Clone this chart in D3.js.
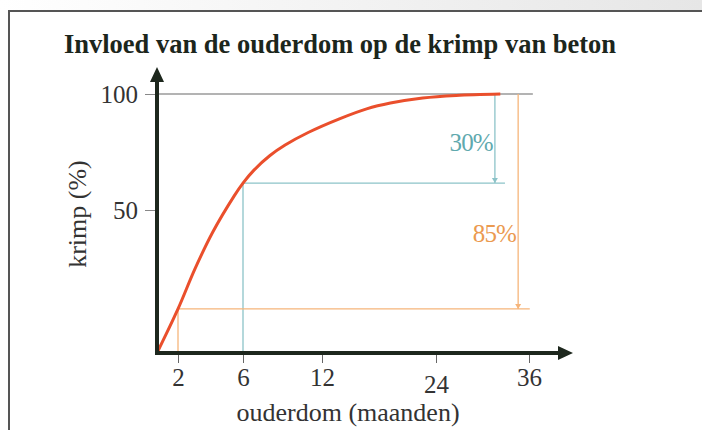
<!DOCTYPE html>
<html>
<head>
<meta charset="utf-8">
<script src="https://cdn.jsdelivr.net/npm/d3@7"></script>
<style>
  body { margin: 0; background: #fff; }
  svg { display: block; font-family: "Liberation Serif", "DejaVu Serif", serif; }
</style>
</head>
<body>
<div id="chart"></div>
<script>
// curve
const months = [0, 2, 3.05, 4.15, 5.45, 6, 6.85, 8.05, 9.2, 10.95, 13.9, 16.7, 19.2, 22.6, 26.6, 32.3];
const krimp = [0, 15.4, 29.5, 42.4, 56, 61.6, 67.3, 73.5, 78, 83.4, 89.4, 93.6, 96.1, 98.3, 99.4, 100];
const xTicks = [2, 6, 12, 24, 36];
const yTicks = [50, 100];
const refMonths = [6, 2];
const refLabels = ["30%", "85%"];
const refColors = ["#8cc3c8", "#f6b57a"];
const refTextColors = ["#5fa9ae", "#eb9a50"];

const width = 702, height = 430;

const svg = d3.select("#chart").append("svg")
    .attr("width", width)
    .attr("height", height);

// faint grey strip top right + frame
const grad = svg.append("defs").append("linearGradient")
    .attr("id", "topgrad");
grad.append("stop").attr("offset", "0%").attr("stop-color", "#ffffff");
grad.append("stop").attr("offset", "100%").attr("stop-color", "#e6e6e6");
svg.append("rect").attr("x", 0).attr("y", 0).attr("width", width).attr("height", 10)
    .attr("fill", "url(#topgrad)");
svg.append("path")
    .attr("d", `M9,${height}V11H${width}`)
    .attr("fill", "none")
    .attr("stroke", "#555")
    .attr("stroke-width", 2);

// axes are drawn unevenly in the source, so piecewise scales
const x = d3.scaleLinear()
    .domain([0, 2, 6, 12, 24, 36, 41.7])
    .range([157, 178, 243, 322, 436, 529, 573]);
const y = d3.scaleLinear()
    .domain([0, 50, 100, 111.6])
    .range([353, 210, 94, 67]);

const data = months.map((m, i) => ({month: m, value: krimp[i]}));
const refValue = m => krimp[months.indexOf(m)];

svg.append("text")
    .attr("x", 340)
    .attr("y", 53)
    .attr("text-anchor", "middle")
    .attr("font-size", 26.5)
    .attr("font-weight", "bold")
    .attr("fill", "#1c261c")
    .text("Invloed van de ouderdom op de krimp van beton");

// grey line at 100
svg.append("line")
    .attr("x1", x(0)).attr("x2", x(36.5))
    .attr("y1", y(100)).attr("y2", y(100))
    .attr("stroke", "#9a9a9a")
    .attr("stroke-width", 1.5);

// reference lines (cyan for 6 months, orange for 2 months)
const arrowAt = [31.6, 34.6];
const lineEnd = [32.9, 36.1];
const labelAt = [79, 42];
refMonths.forEach((m, i) => {
    const v = refValue(m);
    const g = svg.append("g").attr("stroke", refColors[i]).attr("stroke-width", 1.3);
    g.append("line")
        .attr("x1", x(m)).attr("x2", x(m))
        .attr("y1", y(v)).attr("y2", y(0));
    g.append("line")
        .attr("x1", x(m)).attr("x2", x(lineEnd[i]))
        .attr("y1", y(v)).attr("y2", y(v));
    g.append("line")
        .attr("x1", x(arrowAt[i])).attr("x2", x(arrowAt[i]))
        .attr("y1", y(100)).attr("y2", y(v));
    svg.append("path")
        .attr("d", `M${x(arrowAt[i]) - 3},${y(v) - 5}L${x(arrowAt[i])},${y(v)}L${x(arrowAt[i]) + 3},${y(v) - 5}Z`)
        .attr("fill", refColors[i]);
    svg.append("text")
        .attr("x", x(arrowAt[i]) - 2)
        .attr("y", y(labelAt[i]))
        .attr("dy", "0.35em")
        .attr("text-anchor", "end")
        .attr("font-size", 25)
        .attr("letter-spacing", -0.8)
        .attr("fill", refTextColors[i])
        .text(refLabels[i]);
});

// curve
const line = d3.line()
    .x(d => x(d.month))
    .y(d => y(d.value))
    .curve(d3.curveCatmullRom.alpha(0.5));

svg.append("path")
    .datum(data)
    .attr("fill", "none")
    .attr("stroke", "#ea4f2c")
    .attr("stroke-width", 3)
    .attr("d", line);

// axis ticks and labels
const xAxis = svg.append("g")
    .attr("transform", `translate(0,${y(0) + 2})`)
    .call(d3.axisBottom(x).tickValues(xTicks).tickSize(8).tickPadding(5).tickFormat(d3.format("d")));
xAxis.select(".domain").remove();
xAxis.selectAll("line").attr("stroke", "#666");
xAxis.selectAll("text")
    .attr("font-family", "Liberation Serif")
    .attr("font-size", 25)
    .attr("fill", "#333")
    .attr("dy", d => d === 24 ? "0.98em" : "0.71em");

const yAxis = svg.append("g")
    .attr("transform", `translate(${x(0) - 2},0)`)
    .call(d3.axisLeft(y).tickValues(yTicks).tickSize(10).tickPadding(7));
yAxis.select(".domain").remove();
yAxis.selectAll("line").attr("stroke", "#888");
yAxis.selectAll("text")
    .attr("font-family", "Liberation Serif")
    .attr("font-size", 25)
    .attr("fill", "#333");

// thick axis lines with arrows
const axisColor = "#1d271d";
svg.append("path")
    .attr("d", `M${x(0)},${y(0)}V${y(111.6) + 12}M${x(0)},${y(0)}H${x(41.7) - 12}`)
    .attr("fill", "none")
    .attr("stroke", axisColor)
    .attr("stroke-width", 4)
    .attr("stroke-linecap", "square");
svg.append("path")
    .attr("d", `M${x(0)},${y(111.6)}L${x(0) - 7},${y(111.6) + 15}L${x(0) + 7},${y(111.6) + 15}Z`)
    .attr("fill", axisColor);
svg.append("path")
    .attr("d", `M${x(41.7)},${y(0)}L${x(41.7) - 15},${y(0) - 7}L${x(41.7) - 15},${y(0) + 7}Z`)
    .attr("fill", axisColor);

// axis titles
svg.append("text")
    .attr("x", 348)
    .attr("y", 421)
    .attr("text-anchor", "middle")
    .attr("font-size", 26)
    .attr("fill", "#333")
    .text("ouderdom (maanden)");

svg.append("text")
    .attr("transform", `translate(86,214) rotate(-90)`)
    .attr("text-anchor", "middle")
    .attr("font-size", 26)
    .attr("fill", "#333")
    .text("krimp (%)");
</script>
</body>
</html>
